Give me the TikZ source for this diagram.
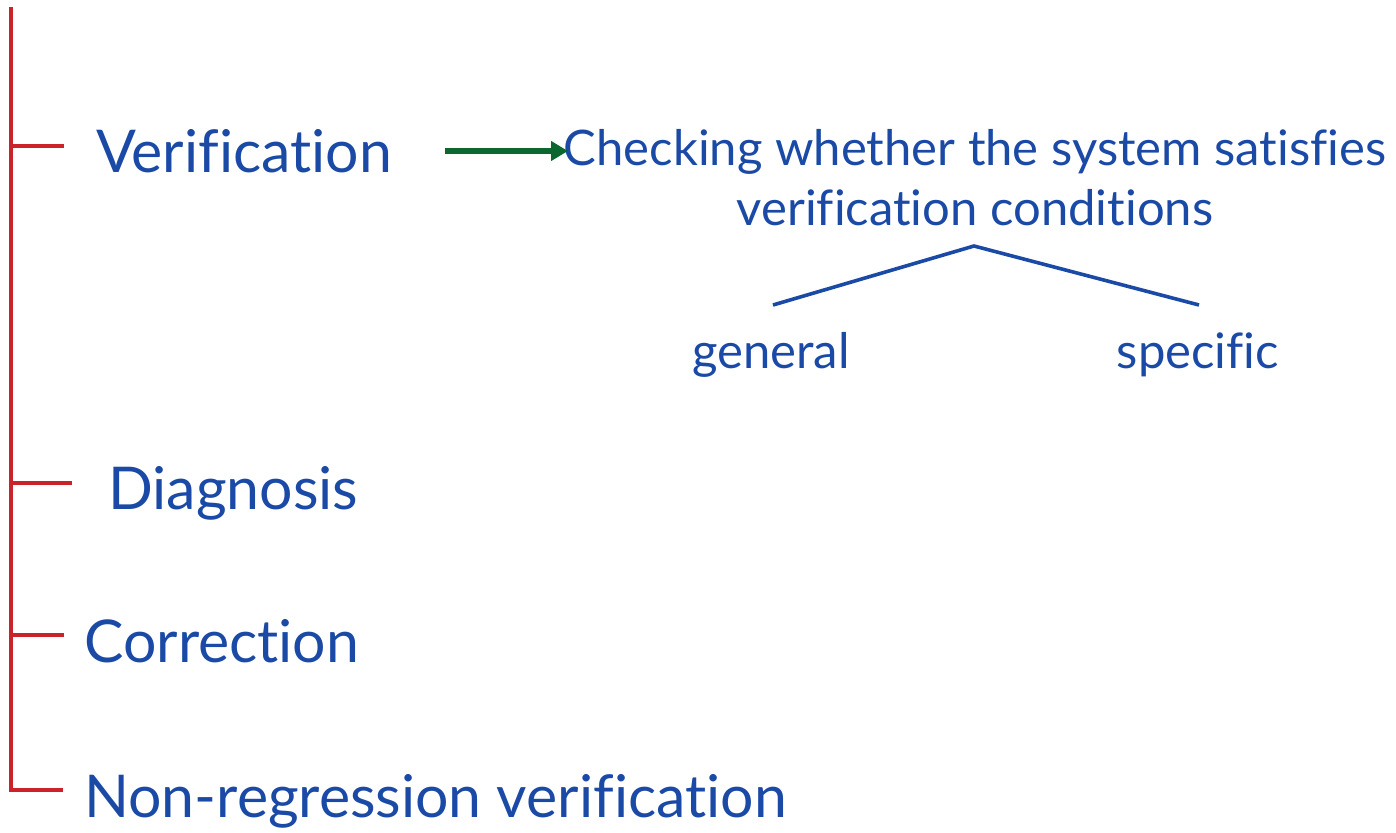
\documentclass[tikz,border=0pt]{standalone}
\usepackage{fontspec}
\setmainfont{Lato}[Ligatures=NoCommon]
\usetikzlibrary{arrows.meta}
\definecolor{txtblue}{HTML}{1A4AA6}
\definecolor{treered}{HTML}{CC2229}
\definecolor{arrgreen}{HTML}{0B6630}
\begin{document}
\begin{tikzpicture}[x=1pt,y=-1pt,
  item/.style={anchor=base west,inner sep=0pt,text=txtblue,font=\fontsize{59}{62}\selectfont},
  sub/.style={anchor=base,inner sep=0pt,text=txtblue,font=\fontsize{49}{60}\selectfont},
  trunk/.style={draw=treered,line width=3.6pt},
  branch/.style={draw=txtblue,line width=3.6pt},
  lead/.style={draw=arrgreen,line width=5.5pt,-{Triangle[length=17pt,width=19pt]}}]
\useasboundingbox (0,0) rectangle (1396,832);
% red tree on the left
\coordinate (top) at (11,7);
\coordinate (bot) at (11,790);
\coordinate (t1) at (11,146); \coordinate (e1) at (64,146);
\coordinate (t2) at (11,483); \coordinate (e2) at (72,483);
\coordinate (t3) at (11,635); \coordinate (e3) at (64,635);
\coordinate (e4) at (63,790);
\draw[trunk] (top) -- (bot) -- (e4);
\draw[trunk] (t1) -- (e1);
\draw[trunk] (t2) -- (e2);
\draw[trunk] (t3) -- (e3);
% stages
\node[item] (v) at (96,172) {Verification};
\node[item] (d) at (108,509) {Diagnosis};
\node[item] (c) at (84,662) {Correction};
\node[item] (n) at (84,817) {Non-regression verification};
% explanation of the verification step
\node[sub,align=center] (chk) at (975,225) {Checking whether the system satisfies\\verification conditions};
\coordinate (a0) at (445,151);
\coordinate (a1) at (568,151);
\draw[lead] (a0) -- (a1);
\coordinate (apex) at (974,246);
\coordinate (gl) at (773,305);
\coordinate (gr) at (1199,305);
\draw[branch] (gl) -- (apex) -- (gr);
\node[sub] (gen) at (771,368) {general};
\node[sub] (spec) at (1198,368) {specific};
\end{tikzpicture}
\end{document}
